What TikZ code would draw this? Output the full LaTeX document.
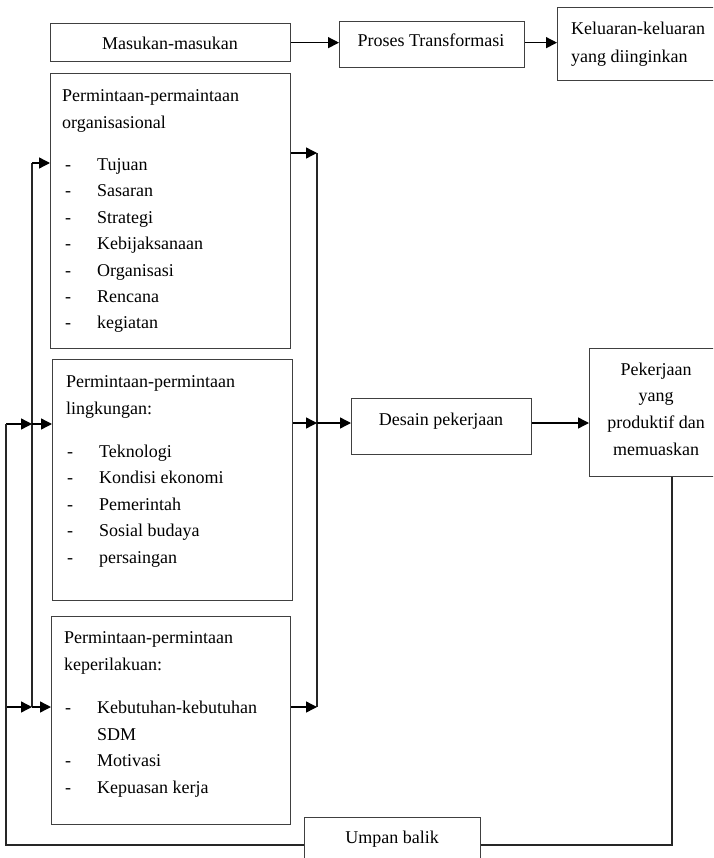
\documentclass[tikz,border=0pt]{standalone}
\usepackage{fontspec}
\setmainfont{Liberation Serif}
\usetikzlibrary{arrows.meta, positioning, calc}

\tikzset{
  kotak/.style={draw=black!75, line width=1.3pt, inner sep=0pt, anchor=north west},
  teks/.style={anchor=base west, inner sep=0pt, font=\fontsize{18}{27}\selectfont},
  teksc/.style={anchor=base, inner sep=0pt, font=\fontsize{18}{27}\selectfont},
  panah/.style={-{Triangle[length=11pt,width=11pt]}, line width=1.4pt},
  garis/.style={line width=1.3pt, draw=black!85}
}

\begin{document}
\begin{tikzpicture}[x=1pt,y=-1pt]
\useasboundingbox (0,0) rectangle (713,858);
\clip (0,0) rectangle (713,858);

% kotak-kotak
\node[kotak, minimum width=240pt, minimum height=38pt] (masukan) at (50,23) {};
\node[kotak, minimum width=185pt, minimum height=46pt] (proses) at (339,21) {};
\node[kotak, minimum width=170pt, minimum height=73pt] (keluaran) at (557,7) {};
\node[kotak, minimum width=240pt, minimum height=275pt] (organisasi) at (50,73) {};
\node[kotak, minimum width=240pt, minimum height=241pt] (lingkungan) at (52,359) {};
\node[kotak, minimum width=239pt, minimum height=208pt] (perilaku) at (51,616) {};
\node[kotak, minimum width=180pt, minimum height=56pt] (desain) at (351,398) {};
\node[kotak, minimum width=135pt, minimum height=128pt] (pekerjaan) at (589,348) {};
\node[kotak, minimum width=176pt, minimum height=60pt] (umpan) at (304,817) {};

% teks
\node[teksc] (tmasukan) at (170,50) {Masukan-masukan};
\node[teksc] (tproses) at (431,47) {Proses Transformasi};
\node[teks] (tkeluaran1) at (571,35) {Keluaran-keluaran};
\node[teks] (tkeluaran2) at (571,63) {yang diinginkan};

\node[teks] (torg1) at (62,102) {Permintaan-permaintaan};
\node[teks] (torg2) at (62,129) {organisasional};
\foreach \t [count=\i] in {Tujuan, Sasaran, Strategi, Kebijaksanaan, Organisasi, Rencana, kegiatan}
  \node[teks] (org\i) at (65,144.1+26.4*\i) {\makebox[32pt][l]{-}\t};

\node[teks] (tling1) at (66,387) {Permintaan-permintaan};
\node[teks] (tling2) at (66,414) {lingkungan:};
\foreach \t [count=\i] in {Teknologi, Kondisi ekonomi, Pemerintah, Sosial budaya, persaingan}
  \node[teks] (ling\i) at (67,430.5+26.5*\i) {\makebox[32pt][l]{-}\t};

\node[teks] (tper1) at (64,643) {Permintaan-permintaan};
\node[teks] (tper2) at (64,670) {keperilakuan:};
\node[teks] (per1) at (65,713) {\makebox[32pt][l]{-}Kebutuhan-kebutuhan};
\node[teks] (per2) at (65,740) {\makebox[32pt][l]{}SDM};
\node[teks] (per3) at (65,766) {\makebox[32pt][l]{-}Motivasi};
\node[teks] (per4) at (65,793) {\makebox[32pt][l]{-}Kepuasan kerja};

\node[teksc] (tdesain) at (441,425) {Desain pekerjaan};
\foreach \t [count=\i] in {Pekerjaan, yang, produktif dan, memuaskan}
  \node[teksc] (pek\i) at (656,348.3+26.7*\i) {\t};
\node[teksc] (tumpan) at (392,843) {Umpan balik};

% alur atas
\draw[panah] (masukan.east) -- (masukan.east -| proses.west);
\draw[panah] (proses.east |- masukan.east) -- (masukan.east -| keluaran.west);

% jalur kiri
\coordinate (kiri1) at (32,163);
\coordinate (kiri2) at (32,424);
\coordinate (kiri3) at (32,707);
\coordinate (balik2) at (6,424);
\coordinate (balik3) at (6,707);
\draw[garis] (kiri1) -- (kiri3);
\draw[panah] (kiri1) -- (kiri1 -| organisasi.west);
\draw[panah] (kiri2) -- (kiri2 -| lingkungan.west);
\draw[panah] (kiri3) -- (kiri3 -| perilaku.west);
\draw[panah] (balik2) -- (kiri2);
\draw[panah] (balik3) -- (kiri3);

% jalur kanan
\coordinate (kanan1) at (317,153);
\coordinate (kanan2) at (317,423);
\coordinate (kanan3) at (317,707);
\draw[garis] (kanan1) -- (kanan3);
\draw[panah] (organisasi.east |- kanan1) -- (kanan1);
\draw[panah] (lingkungan.east |- kanan2) -- (kanan2);
\draw[panah] (perilaku.east |- kanan3) -- (kanan3);
\draw[panah] (kanan2) -- (kanan2 -| desain.west);
\draw[panah] (desain.east |- kanan2) -- (kanan2 -| pekerjaan.west);

% umpan balik
\coordinate (bawah) at (672,845);
\draw[garis] (bawah |- pekerjaan.south) -- (bawah) -- (bawah -| umpan.east);
\draw[garis] (bawah -| umpan.west) -| (balik2);
\end{tikzpicture}
\end{document}
